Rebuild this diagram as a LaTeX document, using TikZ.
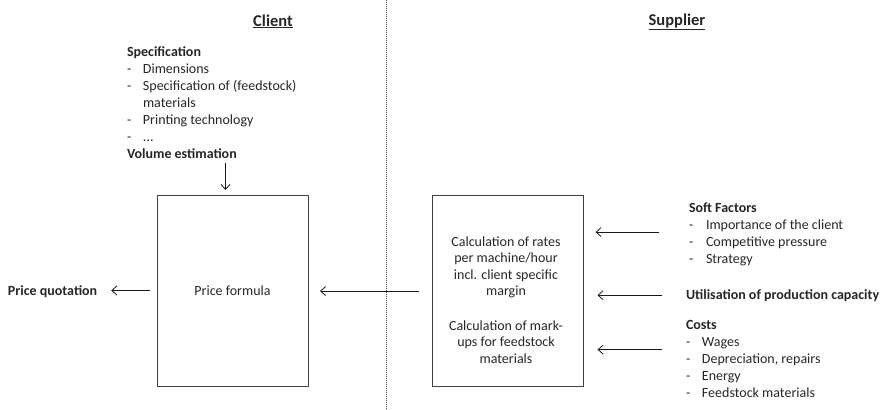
\documentclass[tikz,border=0pt]{standalone}
\usepackage{fontspec}
\setmainfont{Carlito}
\usetikzlibrary{arrows.meta,calc}
\begin{document}
\begin{tikzpicture}[x=1pt,y=-1pt,
  every node/.style={inner sep=0pt, outer sep=0pt, text=black!85},
  txt/.style={font=\fontsize{14}{17}\selectfont},
  btxt/.style={font=\fontsize{14}{17}\selectfont\bfseries},
  head/.style={font=\fontsize{16.5}{20}\selectfont\bfseries},
  box/.style={draw=black!75, line width=0.9pt, minimum width=151pt, minimum height=191pt},
  arr/.style={-{Straight Barb[length=5pt,width=9pt]}, line width=0.8pt, draw=black!90},
  divider/.style={line width=0.9pt, draw=black!70, dash pattern=on 1pt off 1pt},
]
\useasboundingbox (0,0) rectangle (887,410);

% divider
\coordinate (dtop) at (386,0);
\coordinate (dbot) at (386,410);
\draw[divider] (dtop) -- (dbot);

% headings
\node[head, anchor=base] (client) at (273,26) {\underline{Client}};
\node[head, anchor=base] (supplier) at (677,25) {\underline{Supplier}};

% specification list
\node[txt, anchor=base west] (spec) at (127,56) {\begin{tabular}[t]{@{}p{16pt}@{}l@{}}
\multicolumn{2}{@{}l@{}}{\textbf{Specification}}\\
-& Dimensions\\
-& Specification of (feedstock)\\
 & materials\\
-& Printing technology\\
-& ...\\
\multicolumn{2}{@{}l@{}}{\textbf{Volume estimation}}
\end{tabular}};

% boxes
\node[box, txt] (pf) at (232.5,290.5) {Price formula};
\node[box] (calc) at (508,291) {};
\node[txt, anchor=base] (rates) at (506,246) {\fontsize{14}{16.5}\selectfont\begin{tabular}[t]{@{}c@{}}
Calculation of rates\\ per machine/hour\\ incl. client specific\\ margin\end{tabular}};
\node[txt, anchor=base] (markups) at (506,330) {\fontsize{14}{16.5}\selectfont\begin{tabular}[t]{@{}c@{}}
Calculation of mark-\\ ups for feedstock\\ materials\end{tabular}};

% price quotation
\node[btxt, anchor=base west] (pq) at (8,295) {Price quotation};

% right side
\node[txt, anchor=base west] (soft) at (689,212) {\begin{tabular}[t]{@{}p{17pt}@{}l@{}}
\multicolumn{2}{@{}l@{}}{\textbf{Soft Factors}}\\
-& Importance of the client\\
-& Competitive pressure\\
-& Strategy
\end{tabular}};
\node[btxt, anchor=base west] (util) at (686,299) {Utilisation of production capacity};
\node[txt, anchor=base west] (costs) at (686,329) {\begin{tabular}[t]{@{}p{16pt}@{}l@{}}
\multicolumn{2}{@{}l@{}}{\textbf{Costs}}\\
-& Wages\\
-& Depreciation, repairs\\
-& Energy\\
-& Feedstock materials
\end{tabular}};

% connectors
\coordinate (vt) at ($(pf.north)+(-7,-5)$);
\draw[arr] (spec.south -| vt) -- (vt);
\draw[arr] ($(pf.west)+(-7,0)$) -- ($(pq.east |- pf.west)+(14,0)$);
\draw[arr] ($(calc.west)+(-14,0)$) -- ($(pf.east |- calc.west)+(12,0)$);
\draw[arr] ($(soft.west)+(-30,-2)$) -- ($(calc.east |- soft.west)+(12,-2)$);
\draw[arr] ($(util.west)+(-24,0)$) -- ($(calc.east |- util.west)+(14,0)$);
\draw[arr] ($(costs.west)+(-24,-10)$) -- ($(calc.east |- costs.west)+(14,-10)$);
\end{tikzpicture}
\end{document}
